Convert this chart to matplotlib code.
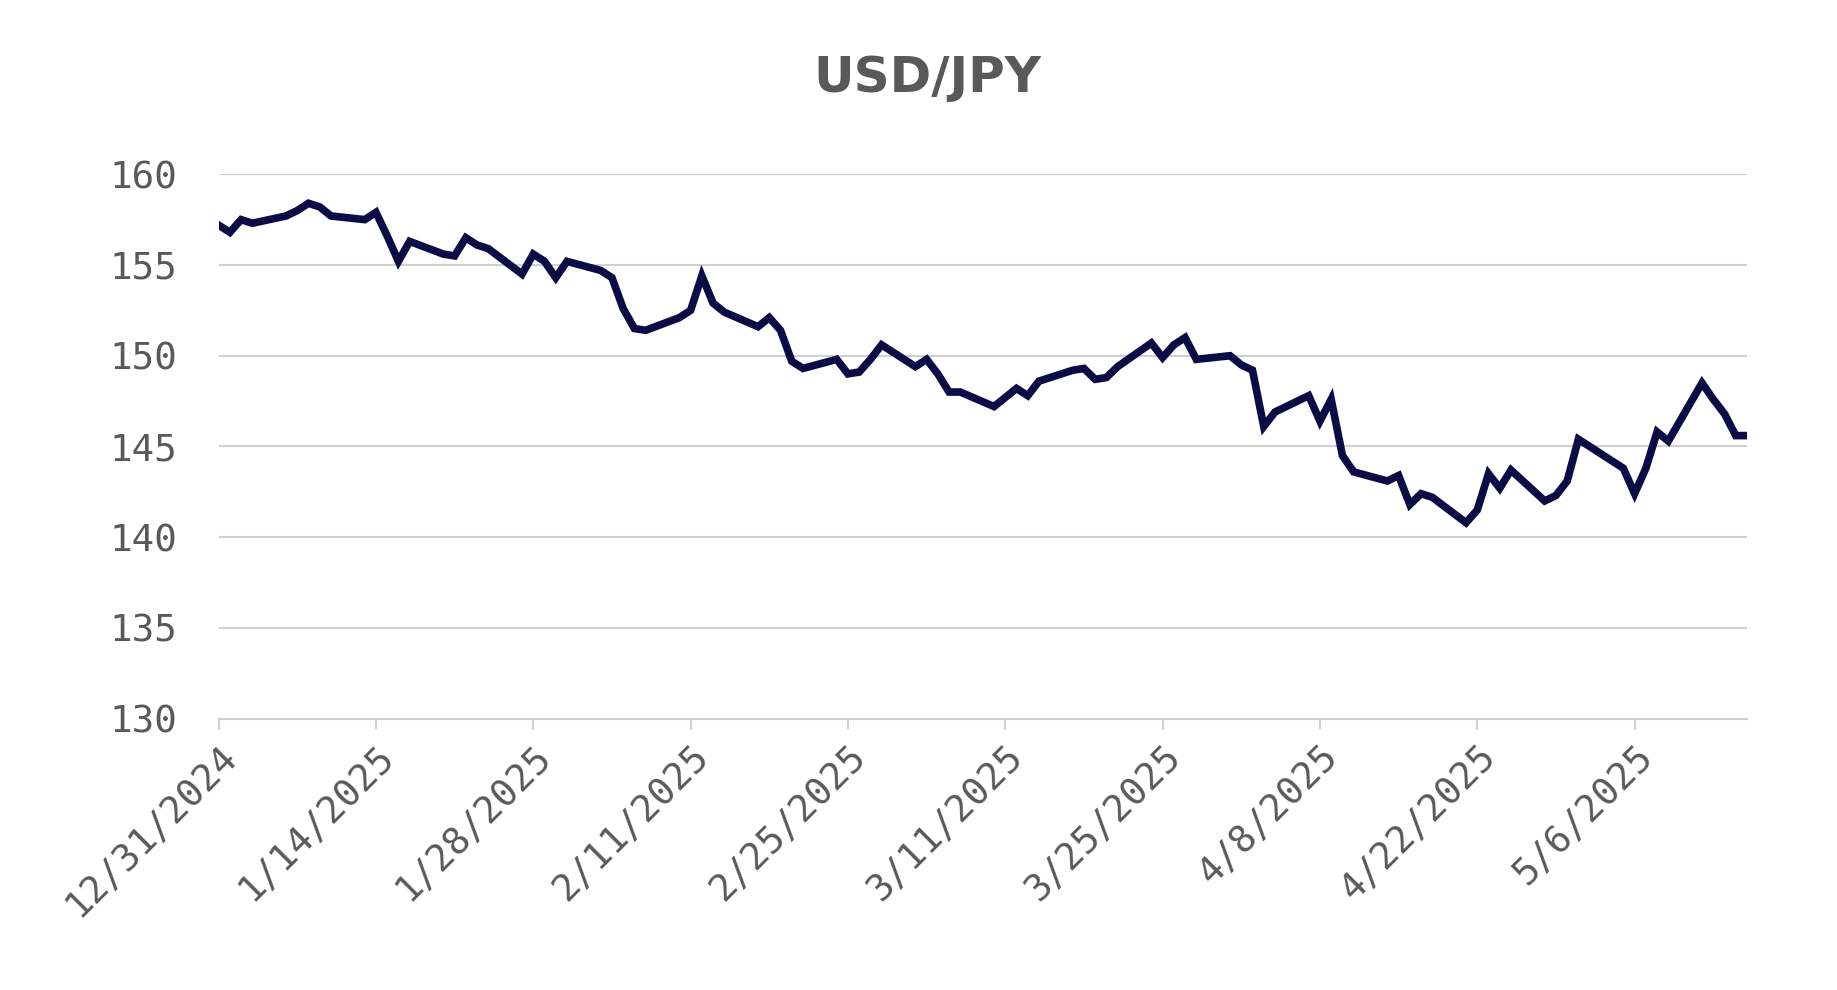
import matplotlib
matplotlib.use("Agg")
import matplotlib.pyplot as plt
import pandas as pd

start_date = "2024-12-31"
end_date = "2025-05-16"
values = [
    157.2, 156.8, 157.5, 157.3,
    157.7, 158.0, 158.4, 158.2, 157.7,
    157.5, 157.9, 156.6, 155.2, 156.3,
    155.6, 155.5, 156.5, 156.1, 155.9,
    154.5, 155.6, 155.2, 154.3, 155.2,
    154.7, 154.3, 152.6, 151.5, 151.4,
    152.1, 152.5, 154.4, 152.9, 152.4,
    151.6, 152.1, 151.4, 149.7, 149.3,
    149.8, 149.0, 149.1, 149.8, 150.6,
    149.4, 149.8, 149.0, 148.0, 148.0,
    147.2, 147.7, 148.2, 147.8, 148.6,
    149.2, 149.3, 148.7, 148.8, 149.4,
    150.7, 149.9, 150.6, 151.0, 149.8,
    150.0, 149.5, 149.2, 146.1, 146.9,
    147.8, 146.4, 147.6, 144.5, 143.6,
    143.1, 143.4, 141.8, 142.4, 142.2,
    140.8, 141.5, 143.5, 142.7, 143.7,
    142.0, 142.3, 143.1, 145.4, 145.0,
    143.8, 142.4, 143.8, 145.8, 145.3,
    148.5, 147.6, 146.8, 145.6, 145.6,
]
dates = pd.bdate_range(start_date, end_date)
tick_dates = pd.date_range(start_date, periods=10, freq="14D")

fig = plt.figure(figsize=(18.37, 9.9), dpi=100)
ax = fig.add_axes([0.119, 0.274, 0.832, 0.550])
ax.plot(dates, values, color="#0b0c45", lw=5.5, solid_joinstyle="miter")
ax.set_ylim(130, 160)
ax.set_yticks(range(130, 161, 5))
ax.set_xlim(pd.Timestamp(start_date), pd.Timestamp(end_date))
ax.set_xticks(tick_dates)
ax.set_xticklabels([f"{d.month}/{d.day}/{d.year}" for d in tick_dates],
                   rotation=45, ha="right", rotation_mode="anchor")
ax.grid(axis="y", color="#d0d0d0", lw=1.5)
ax.set_axisbelow(True)
for s in ["top", "right", "left"]:
    ax.spines[s].set_visible(False)
ax.spines["bottom"].set_color("#d0d0d0")
ax.spines["bottom"].set_linewidth(1.5)
ax.tick_params(axis="y", length=0, pad=30, labelsize=27, labelcolor="#595959")
ax.tick_params(axis="x", length=8, color="#d0d0d0", width=1.5, labelsize=27, labelcolor="#595959", pad=6)
for lab in ax.get_xticklabels() + ax.get_yticklabels():
    lab.set_fontfamily("DejaVu Sans Mono")
fig.suptitle("USD/JPY", x=0.505, y=0.945, fontsize=36, fontweight="bold", color="#595959")
fig.savefig("out.png", dpi=100)
